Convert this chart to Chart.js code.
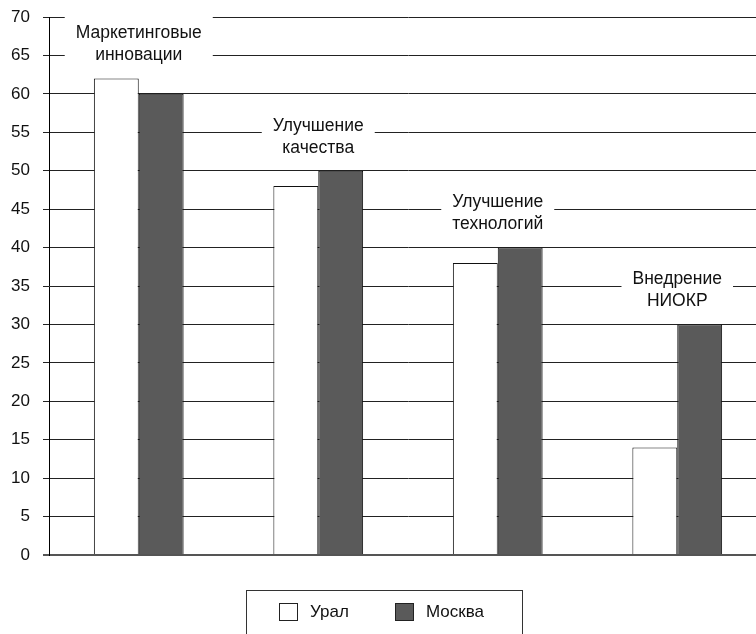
<!DOCTYPE html>
<html>
<head>
<meta charset="utf-8">
<script src="https://cdn.jsdelivr.net/npm/chart.js@4.4.1/dist/chart.umd.min.js"></script>
<style>
  html, body { margin: 0; padding: 0; background: #fff; overflow: hidden; }
  #wrap { width: 768px; height: 634px; }
</style>
</head>
<body>
<div id="wrap"><canvas id="myChart" width="768" height="634"></canvas></div>
<script>
// innovation types, two lines per caption
var categories = [
    ["Маркетинговые", "инновации"],
    ["Улучшение", "качества"],
    ["Улучшение", "технологий"],
    ["Внедрение", "НИОКР"]
];
var uralValues = [62, 48, 38, 14];
var moscowValues = [60, 50, 40, 30];
var seriesNames = ["Урал", "Москва"];
var seriesColors = ["#ffffff", "#5a5a5a"];

var FONT = "'Liberation Sans', Arial, sans-serif";

// captions above each group, on a white plate that hides the grid
var groupCaptions = {
    id: "groupCaptions",
    afterDatasetsDraw: function (chart) {
        var ctx = chart.ctx;
        var x = chart.scales.x, y = chart.scales.y;
        ctx.save();
        ctx.font = "17.5px " + FONT;
        ctx.textAlign = "center";
        ctx.textBaseline = "middle";
        categories.forEach(function (lines, i) {
            var top = y.getPixelForValue(Math.max(uralValues[i], moscowValues[i]));
            var cx = x.getPixelForValue(i);
            var w = Math.max.apply(null, lines.map(function (s) { return ctx.measureText(s).width; }));
            var l1 = top - 45, l2 = top - 23;
            ctx.fillStyle = "#fff";
            ctx.fillRect(cx - w / 2 - 11, l1 - 17, w + 22, l2 - l1 + 30);
            ctx.fillStyle = "#111";
            ctx.fillText(lines[0], cx, l1);
            ctx.fillText(lines[1], cx, l2);
        });
        ctx.restore();
    }
};

// framed legend under the plot
var boxedLegend = {
    id: "boxedLegend",
    afterDraw: function (chart) {
        var ctx = chart.ctx;
        ctx.save();
        ctx.strokeStyle = "#333";
        ctx.lineWidth = 1;
        ctx.strokeRect(246.5, 590.5, 276, 80);
        ctx.font = "17px " + FONT;
        ctx.textBaseline = "middle";
        var xs = [279, 395];
        chart.data.datasets.forEach(function (ds, i) {
            ctx.fillStyle = ds.backgroundColor;
            ctx.fillRect(xs[i] + 0.5, 603.5, 18, 17);
            ctx.strokeStyle = "#222";
            ctx.strokeRect(xs[i] + 0.5, 603.5, 18, 17);
            ctx.fillStyle = "#111";
            ctx.fillText(ds.label, xs[i] + 31, 612);
        });
        ctx.restore();
    }
};

var ctx = document.getElementById("myChart").getContext("2d");

var myChart = new Chart(ctx, {
    type: "bar",
    data: {
        labels: categories.map(function (c) { return c.join(" "); }),
        datasets: [
            {
                label: seriesNames[0],
                data: uralValues,
                backgroundColor: seriesColors[0],
                borderColor: "#111",
                borderWidth: 1
            },
            {
                label: seriesNames[1],
                data: moscowValues,
                backgroundColor: seriesColors[1],
                borderColor: "#111",
                borderWidth: 1
            }
        ]
    },
    options: {
        responsive: false,
        animation: false,
        categoryPercentage: 0.5,
        barPercentage: 1,
        layout: { padding: { top: 17, right: 1, left: 0, bottom: 0 } },
        plugins: {
            legend: { display: false },
            tooltip: { enabled: false }
        },
        scales: {
            x: {
                grid: { display: false, drawTicks: false },
                ticks: { display: false },
                border: { display: false },
                afterFit: function (scale) { scale.height = 79; }
            },
            y: {
                min: 0,
                max: 70,
                ticks: {
                    stepSize: 5,
                    padding: 13,
                    color: "#111",
                    font: { family: FONT, size: 17 }
                },
                grid: {
                    tickLength: 6,
                    color: function (c) { return c.tick && c.tick.value === 0 ? "#555" : "#222"; },
                    lineWidth: function (c) { return c.tick && c.tick.value === 0 ? 2 : 1; }
                },
                border: { color: "#000", width: 1 },
                afterFit: function (scale) {
                    scale.width = 49;
                    scale.paddingTop = 0;
                    scale.paddingBottom = 0;
                }
            }
        }
    },
    plugins: [groupCaptions, boxedLegend]
});
</script>
</body>
</html>
